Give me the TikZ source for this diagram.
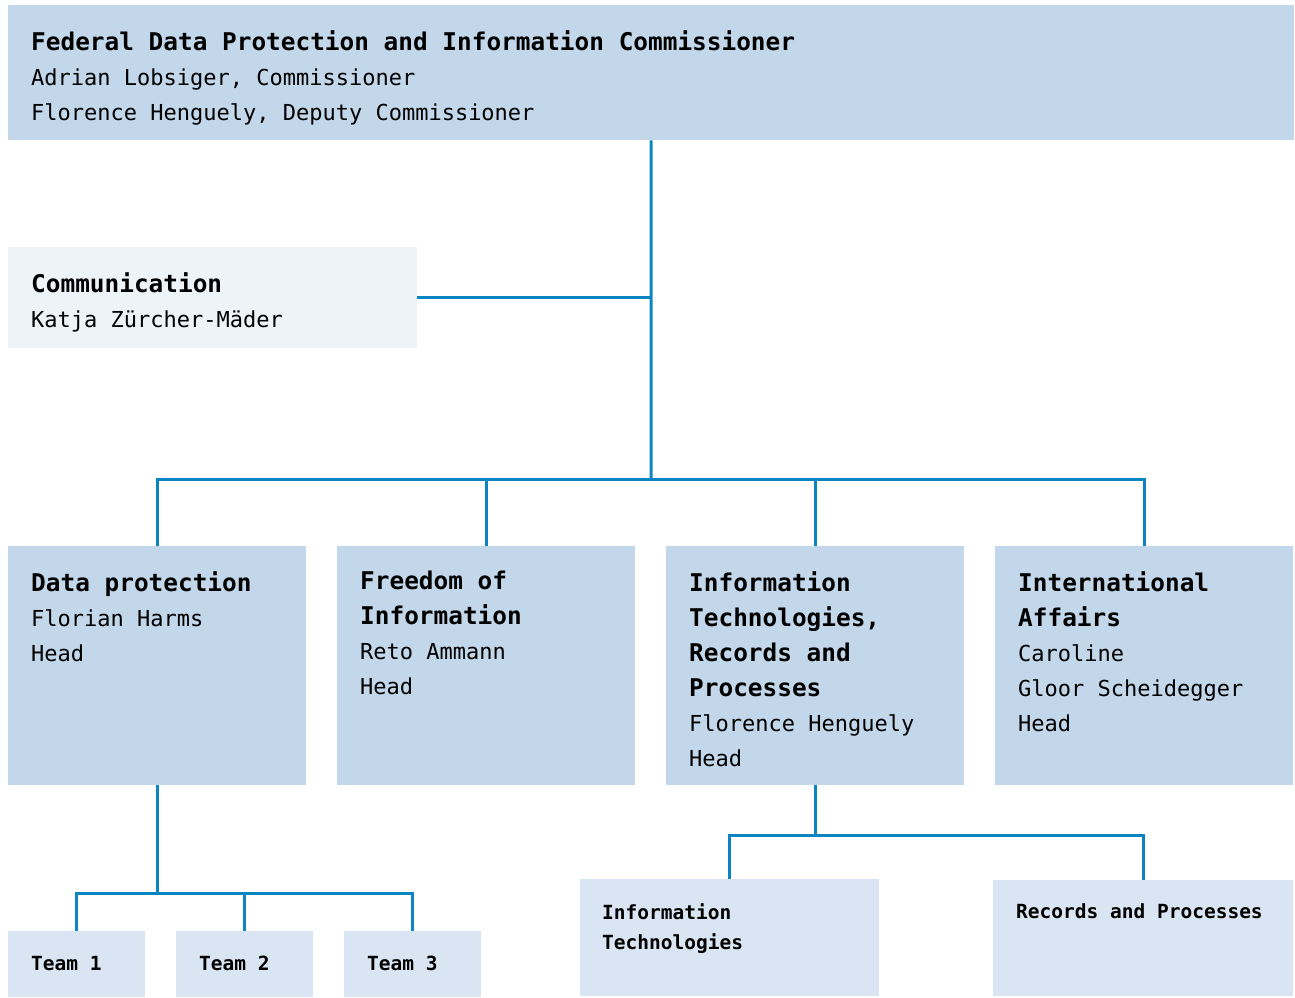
\documentclass[tikz,border=0pt]{standalone}
\usepackage{fontspec}
\setmainfont{DejaVu Sans Mono}
\usetikzlibrary{positioning}

\definecolor{topblue}{HTML}{C3D7EA}
\definecolor{paleblue}{HTML}{EEF3F8}
\definecolor{subblue}{HTML}{DAE5F3}
\definecolor{linkblue}{HTML}{0A85C1}

\tikzset{
  unit/.style={anchor=north west, inner sep=0pt, fill=#1},
  lbl/.style={anchor=north west, inner sep=0pt, align=left,
    font=\fontsize{22pt}{35pt}\selectfont},
  small/.style={anchor=north west, inner sep=0pt, align=left,
    font=\fontsize{19.5pt}{30pt}\selectfont\bfseries},
  link/.style={draw=linkblue, line width=3pt}
}
\newcommand{\hd}[1]{{\fontsize{24.4pt}{35pt}\selectfont\bfseries #1}}

\begin{document}
\begin{tikzpicture}[x=1pt,y=-1pt]
  \useasboundingbox (0,0) rectangle (1295,997);

  % boxes
  \node[unit=topblue, minimum width=1286pt, minimum height=135pt] (fdpic) at (8,5) {};
  \node[unit=paleblue, minimum width=409pt, minimum height=101pt] (comm) at (8,247) {};
  \node[unit=topblue, minimum width=298pt, minimum height=239pt] (dp) at (8,546) {};
  \node[unit=topblue, minimum width=298pt, minimum height=239pt] (foi) at (337,546) {};
  \node[unit=topblue, minimum width=298pt, minimum height=239pt] (itrp) at (666,546) {};
  \node[unit=topblue, minimum width=298pt, minimum height=239pt] (ia) at (995,546) {};
  \node[unit=subblue, minimum width=137pt, minimum height=66pt] (t1) at (8,931) {};
  \node[unit=subblue, minimum width=137pt, minimum height=66pt] (t2) at (176,931) {};
  \node[unit=subblue, minimum width=137pt, minimum height=66pt] (t3) at (344,931) {};
  \node[unit=subblue, minimum width=299pt, minimum height=117pt] (it) at (580,879) {};
  \node[unit=subblue, minimum width=300pt, minimum height=116pt] (rp) at (993,880) {};

  % texts
  \node[lbl] (fdpic-t) at (31,30) {\hd{Federal Data Protection and Information Commissioner}\\
    Adrian Lobsiger, Commissioner\\ Florence Henguely, Deputy Commissioner};
  \node[lbl] (comm-t) at (31,272) {\hd{Communication}\\ Katja Zürcher-Mäder};
  \node[lbl] (dp-t) at (31,571) {\hd{Data protection}\\ Florian Harms\\ Head};
  \node[lbl] (foi-t) at (360,571) {\hd{Freedom of}\\ \hd{Information}\\ Reto Ammann\\ Head};
  \node[lbl] (itrp-t) at (689,571) {\hd{Information}\\ \hd{Technologies,}\\ \hd{Records and}\\
    \hd{Processes}\\ Florence Henguely\\ Head};
  \node[lbl] (ia-t) at (1018,571) {\hd{International}\\ \hd{Affairs}\\ Caroline\\
    Gloor Scheidegger\\ Head};
  \node[small] (t1-t) at (31,956) {Team 1};
  \node[small] (t2-t) at (199,956) {Team 2};
  \node[small] (t3-t) at (367,956) {Team 3};
  \node[small] (it-t) at (602,903) {Information\\ Technologies};
  \node[small] (rp-t) at (1016,903) {Records and Processes};

  % lines
  \coordinate (bus) at (651,479);
  \coordinate (dpbus) at (159,893);
  \coordinate (itbus) at (815,835);

  \draw[link] (fdpic.south) -- (bus);
  \draw[link] (comm.east) -- (comm.east -| fdpic.south);
  \draw[link] (dp.north) -- (dp.north |- bus) -- (ia.north |- bus) -- (ia.north);
  \draw[link] (foi.north) -- (foi.north |- bus);
  \draw[link] (itrp.north) -- (itrp.north |- bus);

  \draw[link] (dp.south) -- (dp.south |- dpbus);
  \draw[link] (t1.north) -- (t1.north |- dpbus) -- (t3.north |- dpbus) -- (t3.north);
  \draw[link] (t2.north) -- (t2.north |- dpbus);

  \draw[link] (itrp.south) -- (itrp.south |- itbus);
  \draw[link] (it.north) -- (it.north |- itbus) -- (rp.north |- itbus) -- (rp.north);

\end{tikzpicture}
\end{document}
